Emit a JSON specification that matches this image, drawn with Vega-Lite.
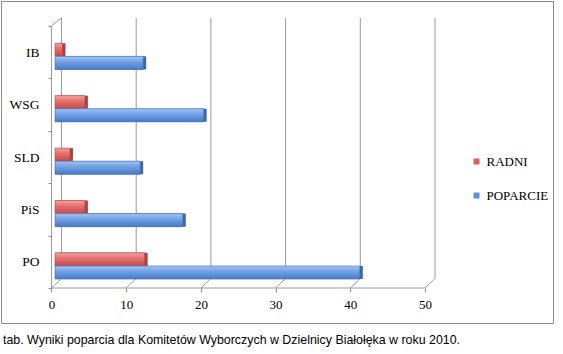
{
  "$schema": "https://vega.github.io/schema/vega-lite/v6.json",
  "width": 552,
  "height": 322,
  "autosize": "none",
  "padding": {"left": 1, "top": 1, "right": 10, "bottom": 31},
  "background": "white",
  "config": {
    "view": {"stroke": "#8a8a8a", "strokeWidth": 1},
    "axisX": {"offset": -35, "tickSize": 4, "labelPadding": 6, "domain": false, "grid": false, "tickColor": "#8c8c8c", "labelFont": "Liberation Serif", "labelFontSize": 13, "labelColor": "#000000", "title": null},
    "axisY": {"offset": -50.5, "tickBand": "extent", "tickSize": 3.5, "labelPadding": 9, "domain": false, "grid": false, "tickColor": "#8c8c8c", "labelFont": "Liberation Serif", "labelFontSize": 13.5, "labelColor": "#000000", "title": null}
  },
  "title": {
    "text": "tab. Wyniki poparcia dla Komitetów Wyborczych w Dzielnicy Białołęka w roku 2010.",
    "orient": "bottom", "anchor": "start", "frame": "group",
    "font": "Liberation Sans", "fontSize": 12.4, "fontWeight": "normal", "color": "#000000",
    "baseline": "alphabetic", "offset": 21, "dx": 2
  },
  "datasets": {
    "results": [
      {"party": "PO", "series": "POPARCIE", "value": 40.8},
      {"party": "PiS", "series": "POPARCIE", "value": 17.1},
      {"party": "SLD", "series": "POPARCIE", "value": 11.4},
      {"party": "WSG", "series": "POPARCIE", "value": 19.9},
      {"party": "IB", "series": "POPARCIE", "value": 11.8},
      {"party": "PO", "series": "RADNI", "value": 12},
      {"party": "PiS", "series": "RADNI", "value": 4},
      {"party": "SLD", "series": "RADNI", "value": 2},
      {"party": "WSG", "series": "RADNI", "value": 4},
      {"party": "IB", "series": "RADNI", "value": 1}
    ],
    "grid": [{"v": 0}, {"v": 10}, {"v": 20}, {"v": 30}, {"v": 40}, {"v": 50}]
  },
  "layer": [
    {
      "data": {"name": "grid"},
      "mark": {"type": "rule", "color": "#9a9a9a", "strokeWidth": 1, "xOffset": 10, "yOffset": -8, "y2Offset": -9.5},
      "encoding": {
        "x": {"field": "v", "type": "quantitative", "title": null},
        "y": {"datum": "IB", "bandPosition": 0},
        "y2": {"datum": "PO", "bandPosition": 1}
      }
    },
    {
      "data": {"name": "grid"},
      "mark": {"type": "rule", "color": "#9a9a9a", "strokeWidth": 1, "x2Offset": 10, "y2Offset": -9.5},
      "encoding": {
        "x": {"field": "v", "type": "quantitative", "title": null},
        "x2": {"field": "v"},
        "y": {"datum": "PO", "bandPosition": 1},
        "y2": {"datum": "PO", "bandPosition": 1}
      }
    },
    {
      "data": {"values": [{}]},
      "mark": {"type": "rule", "color": "#9a9a9a", "strokeWidth": 1},
      "encoding": {
        "x": {"datum": 0},
        "y": {"datum": "IB", "bandPosition": 0},
        "y2": {"datum": "PO", "bandPosition": 1}
      }
    },
    {
      "data": {"values": [{}]},
      "mark": {"type": "rule", "color": "#9a9a9a", "strokeWidth": 1, "x2Offset": 10, "y2Offset": -8},
      "encoding": {
        "x": {"datum": 0},
        "x2": {"datum": 0},
        "y": {"datum": "IB", "bandPosition": 0},
        "y2": {"datum": "IB", "bandPosition": 0}
      }
    },
    {
      "data": {"values": [{}]},
      "mark": {"type": "rule", "color": "#9a9a9a", "strokeWidth": 1},
      "encoding": {
        "x": {"datum": 0},
        "x2": {"datum": 50},
        "y": {"datum": "PO", "bandPosition": 1}
      }
    },
    {
      "data": {"name": "results"},
      "transform": [{"filter": "datum.series === 'RADNI'"}],
      "mark": {"type": "bar", "orient": "horizontal", "xOffset": 6.5, "x2Offset": 6.5, "yOffset": -3, "y2Offset": -3, "fill": "#a8423f"},
      "encoding": {
        "y": {"field": "party", "type": "nominal", "title": null},
        "x": {"field": "value", "type": "quantitative", "title": null},
        "x2": {"datum": 0},
        "yOffset": {"field": "series", "type": "nominal", "scale": {"domain": ["RADNI", "POPARCIE"], "paddingInner": 0, "paddingOuter": 1.495, "align": 0.659}}
      }
    },
    {
      "data": {"name": "results"},
      "transform": [{"filter": "datum.series === 'POPARCIE'"}],
      "mark": {"type": "bar", "orient": "horizontal", "xOffset": 6.5, "x2Offset": 6.5, "yOffset": -3, "y2Offset": -3, "fill": "#3e66a6"},
      "encoding": {
        "y": {"field": "party", "type": "nominal", "title": null},
        "x": {"field": "value", "type": "quantitative", "title": null},
        "x2": {"datum": 0},
        "yOffset": {"field": "series", "type": "nominal", "scale": {"domain": ["RADNI", "POPARCIE"], "paddingInner": 0, "paddingOuter": 1.495, "align": 0.659}}
      }
    },
    {
      "data": {"name": "results"},
      "mark": {"type": "bar", "orient": "horizontal", "xOffset": 3.5, "x2Offset": 3.5},
      "encoding": {
        "y": {"field": "party", "type": "nominal", "title": null, "sort": null,
              "scale": {"domain": ["IB", "WSG", "SLD", "PiS", "PO"], "paddingInner": 0, "paddingOuter": 0.5725, "align": 0.4167}},
        "x": {"field": "value", "type": "quantitative", "title": null,
              "scale": {"domain": [-6.76, 67.135], "nice": false, "zero": false},
              "axis": {"values": [0, 10, 20, 30, 40, 50]}},
        "x2": {"datum": 0},
        "yOffset": {"field": "series", "type": "nominal", "scale": {"domain": ["RADNI", "POPARCIE"], "paddingInner": 0, "paddingOuter": 1.495, "align": 0.659}},
        "color": {"field": "series", "type": "nominal", "title": null,
                  "scale": {"domain": ["RADNI", "POPARCIE"], "range": ["#dc5f5e", "#5f8fd9"]},
                  "legend": {"orient": "none", "legendX": 469, "legendY": 154, "title": null, "labelFont": "Liberation Serif", "labelFontSize": 13, "labelColor": "#000000", "symbolType": "square", "symbolSize": 36, "symbolStrokeWidth": 0, "rowPadding": 20, "padding": 0, "labelOffset": 3.5}}
      }
    },
    {
      "data": {"name": "results"},
      "transform": [{"filter": "datum.series === 'RADNI'"}],
      "mark": {"type": "bar", "orient": "horizontal", "xOffset": 3.5, "x2Offset": 3.5, "stroke": "#b04a48", "strokeWidth": 0.6,
               "fill": {"gradient": "linear", "x1": 0, "y1": 0, "x2": 0, "y2": 1, "stops": [{"offset": 0, "color": "#f2a3a2"}, {"offset": 0.45, "color": "#e46b6a"}, {"offset": 1, "color": "#c04c4b"}]}},
      "encoding": {
        "y": {"field": "party", "type": "nominal", "title": null},
        "x": {"field": "value", "type": "quantitative", "title": null},
        "x2": {"datum": 0},
        "yOffset": {"field": "series", "type": "nominal", "scale": {"domain": ["RADNI", "POPARCIE"], "paddingInner": 0, "paddingOuter": 1.495, "align": 0.659}}
      }
    },
    {
      "data": {"name": "results"},
      "transform": [{"filter": "datum.series === 'POPARCIE'"}],
      "mark": {"type": "bar", "orient": "horizontal", "xOffset": 3.5, "x2Offset": 3.5, "stroke": "#4670b0", "strokeWidth": 0.6,
               "fill": {"gradient": "linear", "x1": 0, "y1": 0, "x2": 0, "y2": 1, "stops": [{"offset": 0, "color": "#a3c4f3"}, {"offset": 0.45, "color": "#6e9ee3"}, {"offset": 1, "color": "#4a7ac4"}]}},
      "encoding": {
        "y": {"field": "party", "type": "nominal", "title": null},
        "x": {"field": "value", "type": "quantitative", "title": null},
        "x2": {"datum": 0},
        "yOffset": {"field": "series", "type": "nominal", "scale": {"domain": ["RADNI", "POPARCIE"], "paddingInner": 0, "paddingOuter": 1.495, "align": 0.659}}
      }
    }
  ]
}
